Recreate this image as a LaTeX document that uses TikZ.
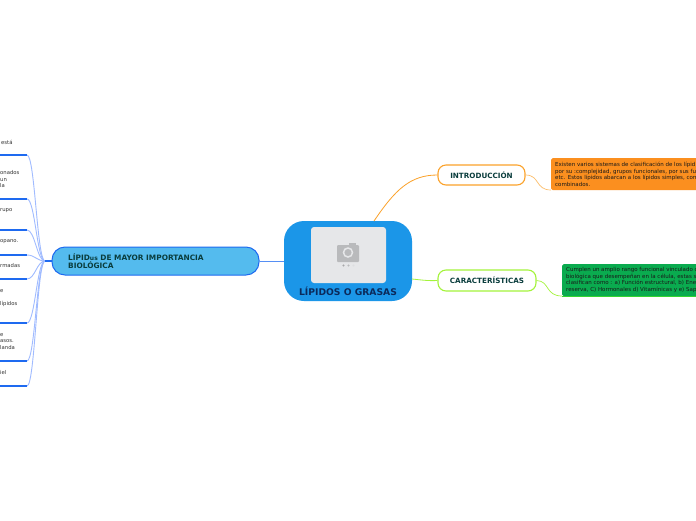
\documentclass[tikz,border=0pt]{standalone}
\usepackage{fontspec}
\setmainfont{DejaVu Sans}
\definecolor{hubblue}{HTML}{1B96E8}
\definecolor{navy}{HTML}{0B2A5B}
\definecolor{darkteal}{HTML}{0A3D3D}
\definecolor{leafline}{HTML}{1E6AF0}
\definecolor{leafcurve}{HTML}{A0BBFF}
\definecolor{skyfill}{HTML}{54BBEE}
\definecolor{orangeline}{HTML}{FBA22B}
\definecolor{orangefill}{HTML}{FB8F1F}
\definecolor{limeline}{HTML}{A4F33B}
\definecolor{greenfill}{HTML}{0AAB4F}
\definecolor{greenedge}{HTML}{35D42F}
\definecolor{imgfill}{HTML}{E6E7E9}
\definecolor{camgray}{HTML}{B9BABC}
\definecolor{smalltext}{HTML}{333333}
\tikzset{
  x=1pt,y=-1pt,
  branch/.style={draw,fill=white,line width=1.1pt,inner sep=0pt,font=\bfseries\fontsize{7.2}{8}\selectfont,text=darkteal},
  leaftext/.style={anchor=west,align=left,inner sep=0pt,font=\fontsize{5.3}{6.5}\selectfont,text=smalltext},
  boxtext/.style={anchor=north west,align=left,inner sep=0pt,font=\fontsize{5.5}{6.5}\selectfont,text=black!90},
  leafbar/.style={leafline,line width=1.3pt},
  leafcurvest/.style={leafcurve,line width=.9pt},
}
\begin{document}
\begin{tikzpicture}
\useasboundingbox (0,0) rectangle (696,520);
\clip (0,0) rectangle (696,520);
\fill[white] (0,0) rectangle (696,520);
% centre
\node[fill=hubblue,rounded corners=20pt,minimum width=128pt,minimum height=80pt,inner sep=0pt] (hub) at (348,261) {};
\node[fill=imgfill,rounded corners=3pt,minimum width=75pt,minimum height=56pt,inner sep=0pt] (img) at (348.5,255) {};
\node[inner sep=0pt,font=\bfseries\fontsize{9.2}{10}\selectfont,text=navy] (hubtext) at (348,291) {LÍPIDOS O GRASAS};
% camera
\fill[camgray,rounded corners=1pt] (337,245) rectangle (359,262);
\fill[camgray] (349,243) rectangle (356,246);
\draw[imgfill,line width=1.5pt] (348,252.5) circle (4.5);
\fill[camgray!90!black] (343.5,265.5) circle (1.2);
\fill[camgray] (348.5,265.5) circle (1.2);
\fill[imgfill!80!camgray] (353.5,265.5) circle (1.2);
% branches
\node[branch,draw=orangeline,rounded corners=8pt,minimum width=87pt,minimum height=20pt] (intro) at (481.5,175) {INTRODUCCIÓN};
\node[branch,draw=limeline,rounded corners=8pt,minimum width=98pt,minimum height=21pt] (carac) at (487,280.5) {CARACTERÍSTICAS};
\node[draw=leafline,fill=skyfill,line width=1pt,rounded corners=13pt,minimum width=207pt,minimum height=28pt,inner sep=0pt] (lip) at (155.5,261) {};
\node[anchor=north west,align=left,inner sep=0pt,font=\bfseries\fontsize{7.4}{8.6}\selectfont,text=darkteal] (liptext) at (68,253) {LÍPID{\fontsize{6}{8}\selectfont us} DE MAYOR IMPORTANCIA\\BIOLÓGICA};
% right boxes
\node[fill=orangefill,rounded corners=1.5pt,minimum width=160pt,minimum height=32pt,anchor=north west,inner sep=0pt] (obox) at (551,158) {};
\node[boxtext] (otext) at (555,162) {Existen varios sistemas de clasificación de los lípid\\por su :complejidad, grupos funcionales, por sus fu\\etc. Estos lípidos abarcan a los lípidos simples, com\\combinados.};
\node[fill=greenfill,rounded corners=1.5pt,minimum width=150pt,minimum height=32pt,anchor=north west,inner sep=0pt] (gbox) at (562,264) {};
\draw[greenedge,line width=1pt] (gbox.south west) -- (gbox.south east);
\node[boxtext] (gtext) at (566,267.5) {Cumplen un amplio rango funcional vinculado c\\biológica que desempeñan en la célula, estas s\\clasifican como : a) Función estructural, b) Ene\\reserva, C) Hormonales d) Vitamínicas y e) Sap};
% connectors
\coordinate (hubA) at (374,221);
\coordinate (hubB) at (412,279);
\coordinate (obase) at (551,190);
\coordinate (gbase) at (562,296);
\draw[orangeline,line width=.8pt] (hubA) .. controls (395,190) and (410,175) .. (intro.west);
\draw[limeline,line width=.8pt] (hubB) .. controls (422,280) and (428,281) .. (carac.west);
\draw[orangeline!70,line width=.7pt] (intro.east) .. controls (540,175) and (535,190) .. (obase);
\draw[limeline,line width=.7pt] (carac.east) .. controls (550,281) and (545,296) .. (gbase);
\draw[leafline!75,line width=1pt] (hub.west) -- (lip.east);
% left leaves
\coordinate (stub) at (45,261);
\foreach \n/\y in {a/155,b/199,c/230,d/255,e/279,f/323,g/361,h/386}{
  \coordinate (l\n) at (27,\y);
  \coordinate (z\n) at (0,\y);
  \draw[leafcurvest] (l\n) .. controls (35,\y) and (37,261) .. (stub);
  \draw[leafbar] (z\n) -- (l\n);
}
\draw[leafline,line width=1.2pt] (lip.west) -- (stub);
\node[leaftext] (ta) at (1,142) {está};
\node[leaftext] (tb) at (0,179.5) {onados\\un\\la};
\node[leaftext] (tc) at (0,211) {rupo};
\node[leaftext] (td) at (0,242) {opano.};
\node[leaftext] (te) at (0,266) {rmadas};
\node[leaftext] (tf1) at (0,291) {e};
\node[leaftext] (tf2) at (0,304) {lípidos};
\node[leaftext] (tg) at (0,341.5) {e\\asos.\\landa};
\node[leaftext] (th) at (0,373) {iel};
\end{tikzpicture}
\end{document}
